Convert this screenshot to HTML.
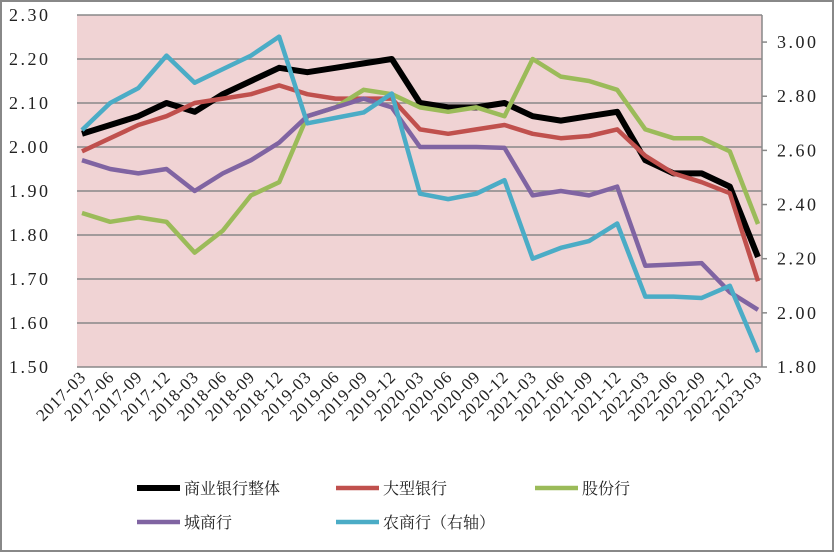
<!DOCTYPE html>
<html><head><meta charset="utf-8"><style>
html,body{margin:0;padding:0;background:#fff;}
svg{display:block;font-family:"Liberation Serif","Noto Serif CJK SC",serif;}
</style></head><body>
<svg id="chart" width="834" height="552" viewBox="0 0 834 552">
<rect x="1" y="1" width="832" height="550" fill="#fff" stroke="#888" stroke-width="2"/>
<rect x="77" y="15" width="685" height="352" fill="#f0d3d4"/>
<g id="grid"></g><g id="axes"></g><g id="series"></g><g id="legend"></g>
</svg>
<script>
const categories=["2017-03","2017-06","2017-09","2017-12","2018-03","2018-06","2018-09","2018-12","2019-03","2019-06","2019-09","2019-12","2020-03","2020-06","2020-09","2020-12","2021-03","2021-06","2021-09","2021-12","2022-03","2022-06","2022-09","2022-12","2023-03"];
const allBanks=[2.03,2.05,2.07,2.10,2.08,2.12,2.15,2.18,2.17,2.18,2.19,2.20,2.10,2.09,2.09,2.10,2.07,2.06,2.07,2.08,1.97,1.94,1.94,1.91,1.75];
const largeBanks=[1.99,2.02,2.05,2.07,2.10,2.11,2.12,2.14,2.12,2.11,2.11,2.11,2.04,2.03,2.04,2.05,2.03,2.02,2.025,2.04,1.98,1.94,1.92,1.895,1.695];
const jointStock=[1.85,1.83,1.84,1.83,1.76,1.81,1.89,1.92,2.07,2.09,2.13,2.12,2.09,2.08,2.09,2.07,2.20,2.16,2.15,2.13,2.04,2.02,2.02,1.99,1.825];
const cityBanks=[1.97,1.95,1.94,1.95,1.90,1.94,1.97,2.01,2.07,2.09,2.11,2.09,2.00,2.00,2.00,1.998,1.89,1.90,1.89,1.91,1.73,1.733,1.736,1.67,1.63];
const ruralBanks=[2.675,2.775,2.83,2.95,2.85,2.90,2.95,3.02,2.70,2.72,2.74,2.81,2.44,2.42,2.44,2.49,2.20,2.24,2.265,2.33,2.06,2.06,2.055,2.10,1.855];
const leftTicks=["2.30","2.20","2.10","2.00","1.90","1.80","1.70","1.60","1.50"];
const rightTicks=["3.00","2.80","2.60","2.40","2.20","2.00","1.80"];
const seriesNames=["商业银行整体","大型银行","股份行","城商行","农商行（右轴）"];

const NS="http://www.w3.org/2000/svg";
const PL=77,PR=762,PT=15,PB=367;
const yL=v=>PB-(v-1.50)/(2.30-1.50)*(PB-PT);
const yR=v=>PB-(v-1.80)/(3.10-1.80)*(PB-PT);
const x0=82,x1=758;
const xS=i=>x0+i*(x1-x0)/(categories.length-1);
function mk(tag,attrs,parent){const e=document.createElementNS(NS,tag);for(const k in attrs)e.setAttribute(k,attrs[k]);parent.appendChild(e);return e;}
const grid=document.getElementById('grid'),axes=document.getElementById('axes'),ser=document.getElementById('series'),leg=document.getElementById('legend');
leftTicks.forEach(t=>{const y=yL(parseFloat(t));
 const l=mk('line',{x1:PL,x2:PR,y1:y,y2:y,stroke:'#888','stroke-width':1.5},grid);
 
 
 const tx=mk('text',{x:9,y:y+6,'font-size':18,fill:'#222','letter-spacing':'2.5'},axes);tx.textContent=t;
 
 
});
const ra=mk('line',{x1:PR,x2:PR,y1:PT,y2:PB,stroke:'#888','stroke-width':1.5},axes);


rightTicks.forEach(t=>{const y=yR(parseFloat(t));
 mk('line',{x1:PR,x2:PR+5,y1:y,y2:y,stroke:'#888','stroke-width':1.5},axes);
 const tx=mk('text',{x:777,y:y+6,'font-size':18,fill:'#222','letter-spacing':'2.5'},axes);tx.textContent=t;
 
 
});
categories.forEach((c,i)=>{const x=xS(i);
 const tx=mk('text',{x:x+5,y:378,'font-size':17,fill:'#222','text-anchor':'end','letter-spacing':'0.8',transform:`rotate(-45 ${x+5} 378)`},axes);tx.textContent=c;
 
 
});
const defs=[[allBanks,'#000',6,yL,'series-all-banks'],[largeBanks,'#c0504d',4.5,yL,'series-large-banks'],[jointStock,'#9bbb59',4.5,yL,'series-joint-stock-banks'],[cityBanks,'#8064a2',4.5,yL,'series-city-banks'],[ruralBanks,'#4bacc6',4.5,yR,'series-rural-banks']];
defs.forEach(([d,col,w,yf,name])=>{
 const p=mk('polyline',{points:d.map((v,i)=>xS(i)+','+yf(v)).join(' '),fill:'none',stroke:col,'stroke-width':w,'stroke-linejoin':'round'},ser);
 
 
});
const legPos=[[137,488],[336,488],[535,488],[137,522],[336,522]];
defs.forEach((d,i)=>{const [x,y]=legPos[i];
 const g=mk('g',{},leg);
 
 
 mk('line',{x1:x,x2:x+43,y1:y,y2:y,stroke:d[1],'stroke-width':d[2]},g);
 const tx=mk('text',{x:x+47,y:y+6,'font-size':16,fill:'#222'},g);tx.textContent=seriesNames[i];
});
</script>
</body></html>
